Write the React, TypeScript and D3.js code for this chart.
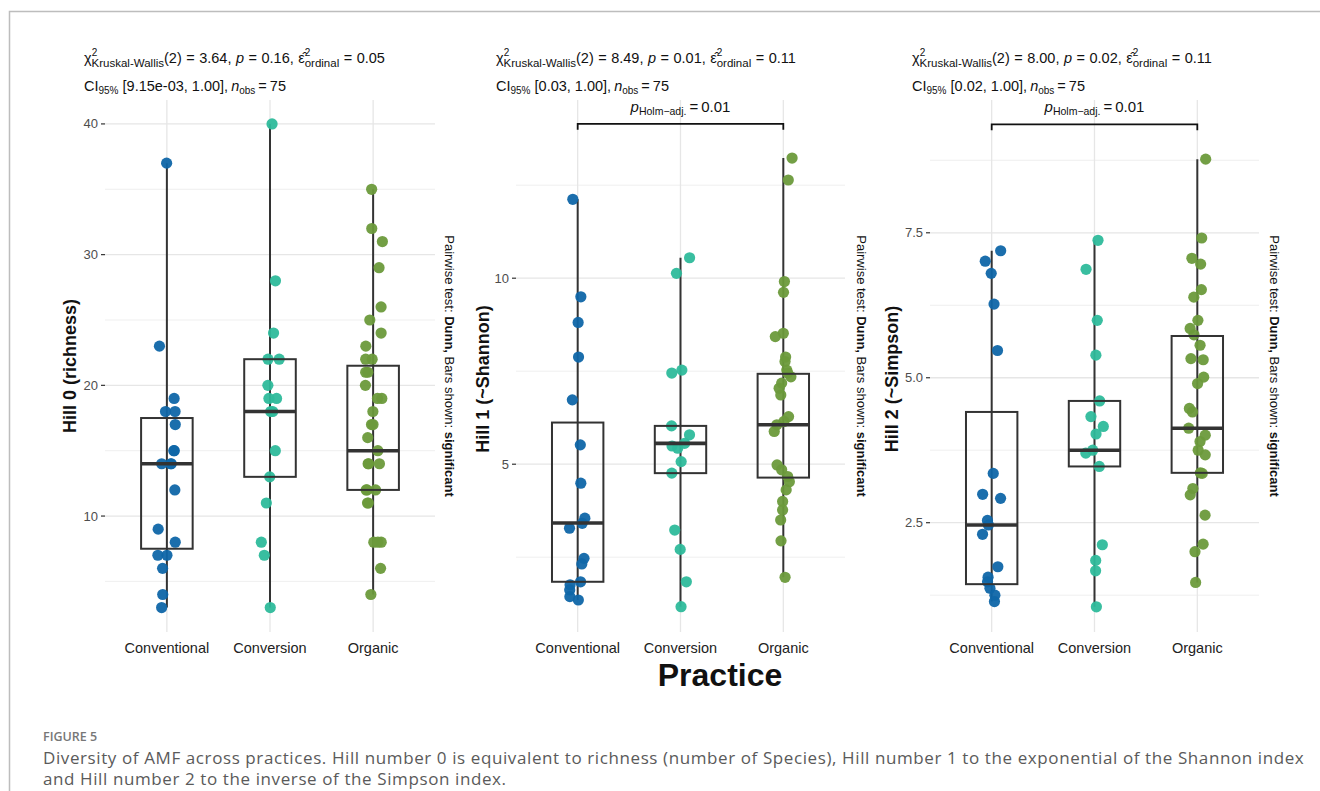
import React from 'react';
import * as d3 from 'd3';

const practices = ['Conventional', 'Conversion', 'Organic'];
const practiceColors = ['#0f66a8', '#2eba9b', '#6c9a3b'];

// Hill 0 (richness), one value per sample
const hill0Conventional = [37, 23, 19, 18, 18, 17, 15, 15, 14, 14, 14, 12, 9, 8, 7, 7, 6, 4, 3];
const hill0Conversion = [40, 28, 24, 22, 22, 20, 19, 19, 18, 18, 15, 13, 11, 8, 7, 3];
const hill0Organic = [35, 32, 31, 29, 26, 25, 24, 23, 22, 22, 21, 21, 20, 19, 19, 18, 17, 17, 16, 15, 14, 14, 14, 12, 12, 12, 11, 11, 8, 8, 8, 6, 4];
// [min, q1, median, q3, max]
const hill0Boxes = [[3, 7.5, 14, 17.5, 37], [3, 13, 18, 22, 40], [4, 12, 15, 21.5, 35]];

// Hill 1 (~Shannon)
const hill1Conventional = [12.12, 9.5, 8.81, 7.88, 6.73, 5.52, 4.49, 3.55, 3.41, 3.28, 2.47, 2.32, 1.84, 1.76, 1.62, 1.44, 1.35];
const hill1Conversion = [10.55, 10.13, 7.53, 7.45, 6.03, 5.79, 5.56, 5.49, 5.43, 5.07, 4.76, 3.23, 2.71, 1.84, 1.17];
const hill1Organic = [13.23, 12.64, 9.91, 9.62, 8.52, 8.43, 7.88, 7.76, 7.53, 7.45, 7.35, 7.18, 7.04, 6.86, 6.28, 6.15, 6.06, 5.88, 4.98, 4.85, 4.67, 4.53, 4.31, 4.0, 3.77, 3.5, 2.94, 1.96];
const hill1Boxes = [[1.35, 1.84, 3.42, 6.12, 12.12], [1.17, 4.76, 5.56, 6.03, 10.55], [1.96, 4.64, 6.06, 7.43, 13.23]];

// Hill 2 (~Simpson)
const hill2Conventional = [7.19, 7.01, 6.8, 6.27, 5.47, 3.35, 2.99, 2.92, 2.54, 2.46, 2.3, 1.74, 1.56, 1.48, 1.37, 1.25, 1.14];
const hill2Conversion = [7.37, 6.87, 5.99, 5.39, 4.6, 4.33, 4.16, 4.03, 3.75, 3.7, 3.47, 2.12, 1.85, 1.67, 1.05];
const hill2Organic = [8.77, 7.41, 7.06, 6.96, 6.52, 6.39, 5.99, 5.85, 5.74, 5.56, 5.33, 5.31, 5.01, 4.9, 4.47, 4.41, 4.13, 4.01, 3.9, 3.75, 3.67, 3.36, 3.35, 3.09, 2.98, 2.63, 2.13, 2.0, 1.47];
const hill2Boxes = [[1.14, 1.44, 2.46, 4.41, 7.19], [1.05, 3.47, 3.75, 4.6, 7.37], [1.47, 3.36, 4.13, 5.72, 8.77]];

const yTitles = ['Hill 0 (richness)', 'Hill 1 (~Shannon)', 'Hill 2 (~Simpson)'];
const kwStatistic = ['3.64', '8.49', '8.00'];
const kwPValues = ['0.16', '0.01', '0.02'];
const epsilonValues = ['0.05', '0.11', '0.11'];
const ciLabels = ['[9.15e-03, 1.00]', '[0.03, 1.00]', '[0.02, 1.00]'];
const holmPValues = [null, '0.01', '0.01'];
const nObs = 75;

const FONT = '"Liberation Sans", Arial, Helvetica, sans-serif';

const panels = [
  {
    values: [hill0Conventional, hill0Conversion, hill0Organic], boxes: hill0Boxes,
    left: 105, right: 435, domain: [1.13, 41.83],
    major: [10, 20, 30, 40], minor: [5, 15, 25, 35], fmt: (d) => String(d),
    bracket: null, textX: 84, yTitleX: 76, yTitleY: 366, sideX: 445,
  },
  {
    values: [hill1Conventional, hill1Conversion, hill1Organic], boxes: hill1Boxes,
    left: 516, right: 845, domain: [0.49, 14.79],
    major: [5, 10], minor: [2.5, 7.5, 12.5], fmt: (d) => String(d),
    bracket: 14.15, textX: 496, yTitleX: 489, yTitleY: 379, sideX: 857,
  },
  {
    values: [hill2Conventional, hill2Conversion, hill2Organic], boxes: hill2Boxes,
    left: 930, right: 1259, domain: [0.615, 9.79],
    major: [2.5, 5, 7.5], minor: [1.25, 3.75, 6.25, 8.75], fmt: (d) => d3.format('.1f')(d),
    bracket: 9.37, textX: 912, yTitleX: 898, yTitleY: 379, sideX: 1270,
  },
];

const TOP = 100;
const BOTTOM = 632;

function Panel({ cfg, idx }) {
  const x = d3.scalePoint().domain(practices).range([cfg.left, cfg.right]).padding(0.6);
  const step = x.step();
  const y = d3.scaleLinear().domain(cfg.domain).range([BOTTOM, TOP]);
  const jitter = d3.randomUniform.source(d3.randomLcg(0.17 + idx * 0.31))(-0.09, 0.09);
  const boxW = step * 0.5;
  const gap = 3; // plotmath-like spacing around "=" and ","
  const gap1 = 4.5;

  return (
    <g fontFamily={FONT}>
      {/* grid */}
      {cfg.minor.map((t) => (
        <line key={'mi' + t} x1={cfg.left} x2={cfg.right} y1={y(t)} y2={y(t)} stroke="#ebebeb" strokeWidth={0.8} />
      ))}
      {cfg.major.map((t) => (
        <line key={'ma' + t} x1={cfg.left} x2={cfg.right} y1={y(t)} y2={y(t)} stroke="#e6e6e6" strokeWidth={1.3} />
      ))}
      {practices.map((p) => (
        <line key={'vg' + p} x1={x(p)} x2={x(p)} y1={TOP} y2={BOTTOM} stroke="#e6e6e6" strokeWidth={1.3} />
      ))}

      {/* y axis */}
      {cfg.major.map((t) => (
        <g key={'yt' + t}>
          <line x1={cfg.left - 4} x2={cfg.left} y1={y(t)} y2={y(t)} stroke="#333" strokeWidth={1.2} />
          <text x={cfg.left - 7} y={y(t)} dy="0.35em" textAnchor="end" fontSize={13} fill="#4d4d4d">{cfg.fmt(t)}</text>
        </g>
      ))}
      <text transform={`translate(${cfg.yTitleX},${cfg.yTitleY}) rotate(-90)`} textAnchor="middle"
        fontSize={18} fontWeight="bold" fill="#111">{yTitles[idx]}</text>

      {/* whiskers */}
      {practices.map((p, i) => (
        <line key={'wh' + p} x1={x(p)} x2={x(p)} y1={y(cfg.boxes[i][0])} y2={y(cfg.boxes[i][4])} stroke="#333" strokeWidth={2} />
      ))}

      {/* jittered points */}
      {practices.map((p, i) => cfg.values[i].map((v, j) => (
        <circle key={p + j} cx={x(p) + jitter() * step} cy={y(v)} r={5.6} fill={practiceColors[i]} fillOpacity={0.95} />
      )))}

      {/* boxes */}
      {practices.map((p, i) => {
        const b = cfg.boxes[i];
        return (
          <g key={'bx' + p}>
            <rect x={x(p) - boxW / 2} y={y(b[3])} width={boxW} height={y(b[1]) - y(b[3])} fill="none" stroke="#333" strokeWidth={2} />
            <line x1={x(p) - boxW / 2} x2={x(p) + boxW / 2} y1={y(b[2])} y2={y(b[2])} stroke="#333" strokeWidth={3.6} />
          </g>
        );
      })}

      {/* x labels */}
      {practices.map((p) => (
        <text key={'xl' + p} x={x(p)} y={653} textAnchor="middle" fontSize={14.5} fill="#222">{p}</text>
      ))}

      {/* significance bracket */}
      {cfg.bracket !== null && (
        <g>
          <path d={`M${x(practices[0])},${y(cfg.bracket) + 6}V${y(cfg.bracket)}H${x(practices[2])}V${y(cfg.bracket) + 6}`}
            fill="none" stroke="#111" strokeWidth={1.8} />
          <text x={(x(practices[0]) + x(practices[2])) / 2} y={y(cfg.bracket) - 12} textAnchor="middle" fontSize={15} fill="#111">
            <tspan fontStyle="italic">p</tspan>
            <tspan fontSize={10.5} dy={3}>{'Holm\u2212adj.'}</tspan>
            <tspan dy={-3} dx={gap}>=</tspan>
            <tspan dx={gap}>{holmPValues[idx]}</tspan>
          </text>
        </g>
      )}

      {/* subtitle */}
      <text x={cfg.textX} y={63} fontSize={14.5} fill="#111">
        <tspan>χ</tspan>
        <tspan fontSize={10} dy={-7}>2</tspan>
        <tspan fontSize={11.5} dx={-5.6} dy={11}>Kruskal-Wallis</tspan>
        <tspan dy={-4}>(2)</tspan>
        <tspan dx={gap1}>=</tspan>
        <tspan dx={gap1}>{kwStatistic[idx] + ','}</tspan>
        <tspan dx={gap1} fontStyle="italic">p</tspan>
        <tspan dx={gap1}>=</tspan>
        <tspan dx={gap1}>{kwPValues[idx] + ','}</tspan>
        <tspan dx={gap1}>{'\u03b5\u0302'}</tspan>
        <tspan fontSize={10} dy={-7}>2</tspan>
        <tspan fontSize={11.5} dx={-5.6} dy={11}>ordinal</tspan>
        <tspan dy={-4} dx={gap1}>=</tspan>
        <tspan dx={gap1}>{epsilonValues[idx]}</tspan>
      </text>
      <text x={cfg.textX} y={91} fontSize={14.5} fill="#111">
        <tspan>CI</tspan>
        <tspan fontSize={10} dy={3}>95%</tspan>
        <tspan dy={-3}>{' ' + ciLabels[idx] + ','}</tspan>
        <tspan dx={gap} fontStyle="italic">n</tspan>
        <tspan fontSize={10} dy={3}>obs</tspan>
        <tspan dy={-3} dx={gap}>=</tspan>
        <tspan dx={gap}>{String(nObs)}</tspan>
      </text>

      {/* right side caption */}
      <text transform={`translate(${cfg.sideX},${(TOP + BOTTOM) / 2}) rotate(90)`} textAnchor="middle" fontSize={13} fill="#111">
        <tspan>Pairwise test: </tspan>
        <tspan fontWeight="bold">Dunn,</tspan>
        <tspan> Bars shown: </tspan>
        <tspan fontWeight="bold">significant</tspan>
      </text>
    </g>
  );
}

export default function App() {
  return (
    <svg width={1320} height={791} style={{ position: 'absolute', left: 0, top: 0, background: '#fff' }}>
      <rect width={1320} height={791} fill="#fff" />
      <path d="M9.5,791V11.5H1320" fill="none" stroke="#bdbdbd" strokeWidth={1.5} />
      {panels.map((cfg, i) => <Panel key={i} cfg={cfg} idx={i} />)}
      <text x={720} y={686} textAnchor="middle" fontFamily={FONT} fontSize={32} fontWeight="bold" fill="#111">Practice</text>
      <g fontFamily='"Open Sans", "Noto Sans", sans-serif' fill="#5a5a5a">
        <text x={43} y={741} fontSize={12.5} fontWeight={600} fill="#777">FIGURE 5</text>
        <text x={43} y={764} fontSize={17} letterSpacing={0.6}>Diversity of AMF across practices. Hill number 0 is equivalent to richness (number of Species), Hill number 1 to the exponential of the Shannon index</text>
        <text x={43} y={785} fontSize={17} letterSpacing={0.6}>and Hill number 2 to the inverse of the Simpson index.</text>
      </g>
    </svg>
  );
}
